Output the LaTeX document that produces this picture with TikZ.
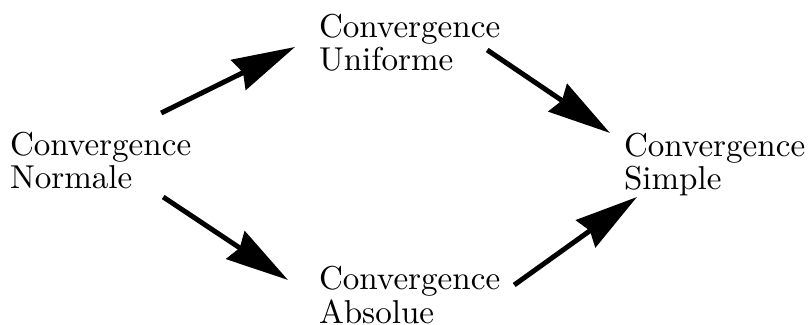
\documentclass[tikz,border=0pt]{standalone}
\usetikzlibrary{arrows.meta}
\begin{document}
\begin{tikzpicture}[x=0.3021pt,y=-0.3021pt,
  lbl/.style={anchor=north west,inner sep=0pt,outer sep=0pt,align=left,
    font=\fontsize{10}{8.8}\selectfont},
  arr/.style={line width=1.5pt,-{Stealth[length=19pt,width=10pt,inset=1.5pt]}}]
\useasboundingbox (0,0) rectangle (808,325);
\node[lbl] (N) at (10,132) {Convergence\\Normale};
\node[lbl] (U) at (319,14) {Convergence\\Uniforme};
\node[lbl] (A) at (319,266) {Convergence\\Absolue};
\node[lbl] (S) at (624,133) {Convergence\\Simple};
\draw[arr] ([shift={(-30,-19)}]N.north east) -- ([shift={(-24,33)}]U.north west);
\draw[arr] ([shift={(-13,36)}]U.north east) -- ([shift={(-14,0)}]S.north west);
\draw[arr] ([shift={(-28,65)}]N.north east) -- ([shift={(-31,14)}]A.north west);
\draw[arr] ([shift={(14,19)}]A.north east) -- ([shift={(13,64)}]S.north west);
\end{tikzpicture}
\end{document}
